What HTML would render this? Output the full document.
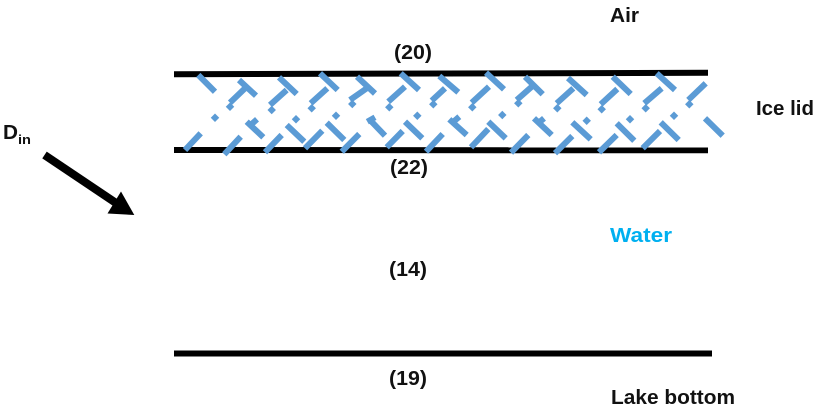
<!DOCTYPE html>
<html><head><meta charset="utf-8"><style>
html,body{margin:0;padding:0;background:#fff;width:818px;height:412px;overflow:hidden}
svg{display:block}
text{font-family:"Liberation Sans",sans-serif;font-weight:bold;font-size:20px;fill:#111}
</style></head><body>
<svg width="818" height="412" viewBox="0 0 818 412" xmlns="http://www.w3.org/2000/svg">
<g stroke="#000" stroke-width="6" fill="none">
<line x1="174" y1="74.2" x2="708" y2="72.8"/>
<line x1="174" y1="150" x2="708" y2="150.3"/>
<line x1="174" y1="353.5" x2="712" y2="353.5"/>
</g>
<g stroke="#5B9BD5" stroke-width="6" fill="none">
<path d="M198.3 75L215 91.7M239 80L256 95.7M245 88.3L230 102.7M200.7 133.3L185 150M246.7 121.7L263.3 137.3M257 119.3L251.7 124M240.7 136.7L224.3 154.3M279 77.3L296.7 94M286.7 90L270 105M286.7 125L304.3 141.7M281.7 135L265 152.3M320 73.3L337.7 90M327.3 88.3L310.7 103.3M326.7 122.7L344.3 140M322.3 130.7L305 148.3M359.3 134L341.7 151.7M357 76.7L375 93.5M366.7 88.3L350 100"/>
<path d="M400.7 73.3L419 90M439.3 76L458.3 92.3M486 72.7L504 89.3M525 76.7L542.7 94.3M568 78L586.7 95M612.7 76.7L630.7 94M656.7 73.3L675 90"/>
<path d="M405 86.7L388.3 101.7M445 88.3L431.7 100.7M489 86.7L471.7 102.7M531.7 86.7L516.7 100M573.3 88.3L556.7 103.3M617.3 89L600.7 104.3M661.7 88.3L644.3 103.3M705.7 83.3L688.3 100"/>
<path d="M370 120L385 135.7M375 117.3L367.3 121.7M402.7 131L386.7 147.3M405 121.7L422.3 138.3M442.7 134L426 151.7M449.3 119.3L466.7 135M459.3 116.7L454.3 121M488.3 121.7L505.7 138.3M488.3 129L471 147.3M528.3 135L511 152.7M534 118.3L551.7 135M544 118.3L540 121.7M572.3 122.3L590.7 139.3M572.3 136L555 153.3M616.7 135L599 152.3M616.7 123.3L634.3 140.7M660 131L642.7 148.3M660.7 122.3L678.7 140M705 118.3L722.7 135.7"/>
</g>
<g fill="#5B9BD5">
<rect x="-3" y="-3" width="6" height="6" transform="translate(230 106.7) rotate(45)"/>
<rect x="-3" y="-3" width="6" height="6" transform="translate(215 117.7) rotate(45)"/>
<rect x="-3" y="-3" width="6" height="6" transform="translate(271.7 110) rotate(45)"/>
<rect x="-3" y="-3" width="6" height="6" transform="translate(296 119.3) rotate(45)"/>
<rect x="-3" y="-3" width="6" height="6" transform="translate(311.7 108.3) rotate(45)"/>
<rect x="-3" y="-3" width="6" height="6" transform="translate(336 115.7) rotate(45)"/>
<rect x="-3" y="-3" width="6" height="6" transform="translate(352.3 104) rotate(45)"/>
<rect x="-3" y="-3" width="6" height="6" transform="translate(389.3 107.3) rotate(45)"/>
<rect x="-3" y="-3" width="6" height="6" transform="translate(433.3 104.3) rotate(45)"/>
<rect x="-3" y="-3" width="6" height="6" transform="translate(472.3 107.3) rotate(45)"/>
<rect x="-3" y="-3" width="6" height="6" transform="translate(518.3 103.3) rotate(45)"/>
<rect x="-3" y="-3" width="6" height="6" transform="translate(557.3 108.3) rotate(45)"/>
<rect x="-3" y="-3" width="6" height="6" transform="translate(601.7 109.3) rotate(45)"/>
<rect x="-3" y="-3" width="6" height="6" transform="translate(645.7 108.3) rotate(45)"/>
<rect x="-3" y="-3" width="6" height="6" transform="translate(689.3 104.3) rotate(45)"/>
<rect x="-3" y="-3" width="6" height="6" transform="translate(417.3 115.7) rotate(45)"/>
<rect x="-3" y="-3" width="6" height="6" transform="translate(502.3 115) rotate(45)"/>
<rect x="-3" y="-3" width="6" height="6" transform="translate(586.7 120.7) rotate(45)"/>
<rect x="-3" y="-3" width="6" height="6" transform="translate(630 119.3) rotate(45)"/>
<rect x="-3" y="-3" width="6" height="6" transform="translate(674 115.7) rotate(45)"/>
</g>
<line x1="44.5" y1="155" x2="116" y2="203" stroke="#000" stroke-width="8"/>
<polygon points="134.3,215 107.5,213.5 121,191.5" fill="#000"/>
<text x="394" y="59" textLength="38" lengthAdjust="spacingAndGlyphs">(20)</text>
<text x="390" y="174" textLength="38" lengthAdjust="spacingAndGlyphs">(22)</text>
<text x="389" y="276" textLength="38" lengthAdjust="spacingAndGlyphs">(14)</text>
<text x="389" y="385" textLength="38" lengthAdjust="spacingAndGlyphs">(19)</text>
<text x="610" y="22" textLength="29" lengthAdjust="spacingAndGlyphs">Air</text>
<text x="756" y="115" textLength="58" lengthAdjust="spacingAndGlyphs">Ice lid</text>
<text x="610" y="242" textLength="62" lengthAdjust="spacingAndGlyphs" style="fill:#00B0F0">Water</text>
<text x="611" y="404" textLength="124" lengthAdjust="spacingAndGlyphs">Lake bottom</text>
<text x="3" y="139" textLength="15" lengthAdjust="spacingAndGlyphs">D</text>
<text x="18" y="144" textLength="13" lengthAdjust="spacingAndGlyphs" style="font-size:13px">in</text>
</svg>
</body></html>
